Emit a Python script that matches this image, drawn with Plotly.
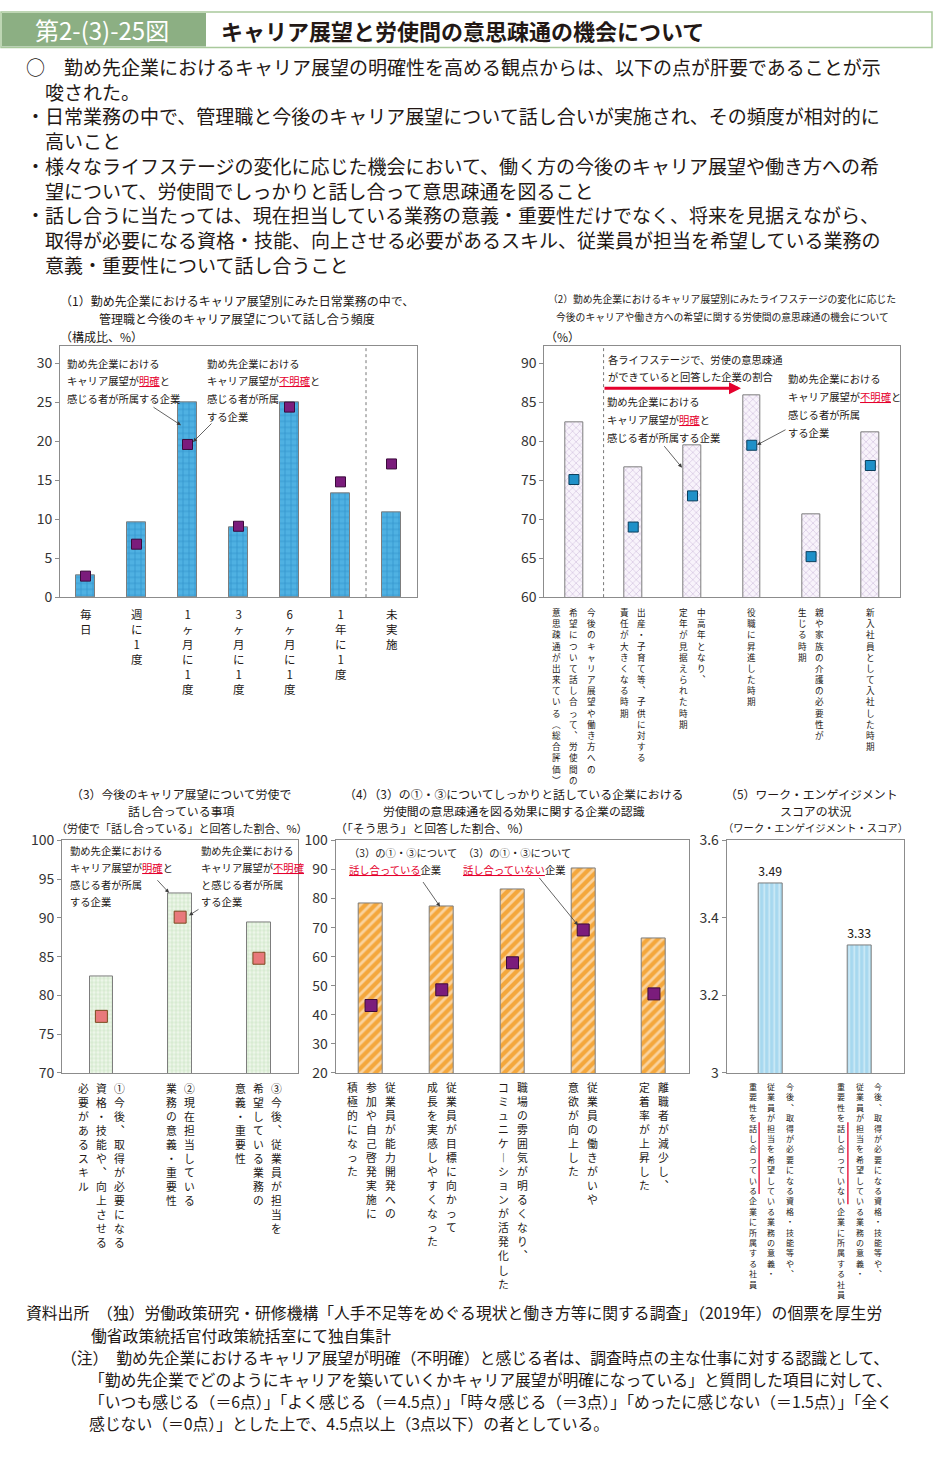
import plotly.graph_objects as go

W, H = 933, 1457
F = "Noto Sans CJK JP"
INK = "#231815"
RED = "#e5002d"
AX = "#8c8c8c"

# ---------------- data ----------------
p1_categories = ["毎日", "週に1度", "1ヶ月に1度", "3ヶ月に1度", "6ヶ月に1度", "1年に1度", "未実施"]
p1_clear = [2.8, 9.6, 25.0, 9.0, 25.0, 13.3, 10.9]        # キャリア展望が明確（棒）
p1_unclear = [2.7, 6.8, 19.6, 9.1, 24.4, 14.8, 17.1]      # キャリア展望が不明確（■）

p2_categories = [
    "今後のキャリア展望や働き方への\n希望について話し合って、労使間の\n意思疎通が出来ている（総合評価）",
    "出産・子育て等、子供に対する\n責任が大きくなる時期",
    "中高年となり、\n定年が見据えられた時期",
    "役職に昇進した時期",
    "親や家族の介護の必要性が\n生じる時期",
    "新入社員として入社した時期",
]
p2_clear = [82.4, 76.7, 79.5, 85.9, 70.6, 81.2]
p2_unclear = [75.1, 69.0, 73.0, 79.5, 65.2, 76.9]

p3_categories = [
    "①今後、取得が必要になる\n資格・技能や、向上させる\n必要があるスキル",
    "②現在担当している\n業務の意義・重要性",
    "③今後、従業員が担当を\n希望している業務の\n意義・重要性",
]
p3_clear = [82.5, 93.2, 89.4]
p3_unclear = [77.3, 90.1, 84.8]

p4_categories = [
    "従業員が能力開発への\n参加や自己啓発実施に\n積極的になった",
    "従業員が目標に向かって\n成長を実感しやすくなった",
    "職場の雰囲気が明るくなり、\nコミュニケーションが活発化した",
    "従業員の働きがいや\n意欲が向上した",
    "離職者が減少し、\n定着率が上昇した",
]
p4_talking = [78.2, 77.3, 83.0, 90.2, 66.4]
p4_not_talking = [43.2, 48.6, 57.9, 69.2, 47.2]

p5_categories = [
    "今後、取得が必要になる資格・技能等や、\n従業員が担当を希望している業務の意義・\n重要性を話し合っている企業に所属する社員",
    "今後、取得が必要になる資格・技能等や、\n従業員が担当を希望している業務の意義・\n重要性を話し合っていない企業に所属する社員",
]
p5_scores = [3.49, 3.33]

intro_lines = [
    "○　勤め先企業におけるキャリア展望の明確性を高める観点からは、以下の点が肝要であることが示",
    "　唆された。",
    "・日常業務の中で、管理職と今後のキャリア展望について話し合いが実施され、その頻度が相対的に",
    "　高いこと",
    "・様々なライフステージの変化に応じた機会において、働く方の今後のキャリア展望や働き方への希",
    "　望について、労使間でしっかりと話し合って意思疎通を図ること",
    "・話し合うに当たっては、現在担当している業務の意義・重要性だけでなく、将来を見据えながら、",
    "　取得が必要になる資格・技能、向上させる必要があるスキル、従業員が担当を希望している業務の",
    "　意義・重要性について話し合うこと",
]
footer_lines = [
    "資料出所　（独）労働政策研究・研修機構「人手不足等をめぐる現状と働き方等に関する調査」（2019年）の個票を厚生労",
    "働省政策統括官付政策統括室にて独自集計",
    "（注）　勤め先企業におけるキャリア展望が明確（不明確）と感じる者は、調査時点の主な仕事に対する認識として、",
    "「勤め先企業でどのようにキャリアを築いていくかキャリア展望が明確になっている」と質問した項目に対して、",
    "「いつも感じる（＝6点）」「よく感じる（＝4.5点）」「時々感じる（＝3点）」「めったに感じない（＝1.5点）」「全く",
    "感じない（＝0点）」とした上で、4.5点以上（3点以下）の者としている。",
]

# ---------------- layout helpers ----------------
def px(x):
    return x / W


def py(y):
    return 1 - y / H


ann = []
shapes = []


def t(x, y, s, size=12, xa="left", color=INK, ya="middle"):
    ann.append(dict(x=px(x), y=py(y), xref="paper", yref="paper", text=s, showarrow=False,
                    xanchor=xa, yanchor=ya, align="left" if xa == "left" else "center",
                    font=dict(family=F, size=size, color=color), borderpad=0))


def arrow(tx, ty, hx, hy, color="#3c3c3c", width=0.8, head=2, size=1.0):
    ann.append(dict(x=px(hx), y=py(hy), xref="paper", yref="paper", text="", showarrow=True,
                    ax=tx - hx, ay=ty - hy, axref="pixel", ayref="pixel",
                    arrowcolor=color, arrowwidth=width, arrowhead=head, arrowsize=size, standoff=0))


def red(s):
    return f"<span style='color:{RED};text-decoration:underline'>{s}</span>"


VERT = {"、": "︑", "。": "︒", "ー": "︱", "（": "︵", "）": "︶", "「": "﹁", "」": "﹂"}


def vlabels(ax_i, cats, y0, size, colgap):
    xref = "x" if ax_i == 1 else f"x{ax_i}"
    for i, cat in enumerate(cats):
        cols = cat.split("\n")
        n = len(cols)
        for c, col in enumerate(cols):
            dx = ((n - 1) / 2 - c) * colgap
            txt = "<br>".join(VERT.get(ch, ch) for ch in col)
            ann.append(dict(xref=xref, x=i, yref="paper", y=py(y0), text=txt, showarrow=False,
                            xshift=dx, xanchor="center", yanchor="top", align="center",
                            borderpad=0, font=dict(family=F, size=size, color=INK)))


# panel geometry (pixels)
dom = {
    1: ((60, 417), (340, 594.3)),
    2: ((544.3, 900), (340, 594.3)),
    3: ((62, 298.3), (841, 1076.7)),
    4: ((335.7, 689.3), (841, 1076.7)),
    5: ((726.7, 904.3), (841, 1076.7)),
}
yranges = {1: [0, 32.2], 2: [60, 92.2], 3: [70, 100], 4: [20, 100], 5: [3, 3.6]}
dticks = {1: 5, 2: 5, 3: 5, 4: 10, 5: 0.2}
ncat = {1: len(p1_categories), 2: len(p2_categories), 3: len(p3_categories),
        4: len(p4_categories), 5: len(p5_categories)}

fig = go.Figure()
lay = {}
for i, (xd, yd) in dom.items():
    sfx = "" if i == 1 else str(i)
    lay["xaxis" + sfx] = dict(domain=[px(xd[0]), px(xd[1])], anchor="y" + sfx, type="category",
                              range=[-0.5, ncat[i] - 0.5], showticklabels=False, ticks="",
                              showline=True, mirror=True, linecolor=AX, linewidth=1,
                              showgrid=False, zeroline=False, fixedrange=True)
    lay["yaxis" + sfx] = dict(domain=[py(yd[1]), py(yd[0])], anchor="x" + sfx, range=yranges[i],
                              dtick=dticks[i], tick0=yranges[i][0], ticks="outside", ticklen=4,
                              tickcolor=AX, showline=True, mirror=True, linecolor=AX, linewidth=1,
                              showgrid=False, zeroline=False, fixedrange=True,
                              tickfont=dict(family=F, size=14, color="#333333"))


def bars(i, cats, vals, width, bg, fg, shape, size, solidity, text=None):
    sfx = "" if i == 1 else str(i)
    fig.add_trace(go.Bar(x=cats, y=vals, xaxis="x" + sfx, yaxis="y" + sfx, width=width,
                         marker=dict(color=bg, line=dict(color="#7d7d7d", width=1),
                                     pattern=dict(shape=shape, fgcolor=fg, bgcolor=bg, size=size,
                                                  solidity=solidity)),
                         text=text, textposition="outside" if text else None,
                         textfont=dict(family=F, size=14, color=INK), cliponaxis=False,
                         showlegend=False, hoverinfo="skip"))


def marks(i, cats, vals, color, line, size):
    sfx = "" if i == 1 else str(i)
    fig.add_trace(go.Scatter(x=cats, y=vals, xaxis="x" + sfx, yaxis="y" + sfx, mode="markers",
                             marker=dict(symbol="square", size=size, color=color,
                                         line=dict(color=line, width=1)),
                             showlegend=False, hoverinfo="skip", cliponaxis=False))


bars(1, p1_categories, p1_clear, 0.37, "#4fb1e2", "#1878b8", "+", 6, 0.25)
marks(1, p1_categories, p1_unclear, "#7b1c7c", "#3b0a3b", 10)
bars(2, p2_categories, p2_clear, 0.30, "#f8f3fb", "#bea6d0", "x", 5, 0.3)
marks(2, p2_categories, p2_unclear, "#1f90c8", "#0c3f5c", 10)
bars(3, p3_categories, p3_clear, 0.30, "#edf6e9", "#92c583", "+", 4, 0.25)
marks(3, p3_categories, p3_unclear, "#e8797b", "#7a4a1e", 12)
bars(4, p4_categories, p4_talking, 0.34, "#f4a73c", "#ffffff", "/", 7, 0.4)
marks(4, p4_categories, p4_not_talking, "#7b1c7c", "#3b0a3b", 12)
bars(5, p5_categories, p5_scores, 0.27, "#a7d8ef", "#ffffff", "|", 5, 0.3,
     text=[f"{v:.2f}" for v in p5_scores])

shapes.append(dict(type="line", xref="x", yref="y domain", x0=5.5, x1=5.5, y0=0, y1=1,
                   line=dict(color="#777777", width=1, dash="3px,3px")))
shapes.append(dict(type="line", xref="x2", yref="y2 domain", x0=0.5, x1=0.5, y0=0, y1=1,
                   line=dict(color="#777777", width=1, dash="3px,3px")))

# ---------------- header ----------------
shapes.append(dict(type="rect", xref="paper", yref="paper", x0=px(1), x1=px(932), y0=py(37),
                   y1=py(1), line=dict(color="#a9c99c", width=1.5), fillcolor="white", layer="below"))
shapes.append(dict(type="rect", xref="paper", yref="paper", x0=px(2), x1=px(206), y0=py(36),
                   y1=py(2), line=dict(width=0), fillcolor="#8caf83", layer="below"))
t(102, 19, "第2-(3)-25図", size=24, xa="center", color="white")
t(220, 19, "<b>キャリア展望と労使間の意思疎通の機会について</b>", size=22)

# ---------------- intro ----------------
t(25, 157, "<br>".join(intro_lines), size=19)

# ---------------- panel titles ----------------
t(237, 294, "（1）勤め先企業におけるキャリア展望別にみた日常業務の中で、", 12, "center")
t(237, 311.7, "管理職と今後のキャリア展望について話し合う頻度", 12, "center")
t(59, 330, "（構成比、%）", 12)

t(722, 292.3, "（2）勤め先企業におけるキャリア展望別にみたライフステージの変化に応じた", 9.8, "center")
t(722, 310.7, "今後のキャリアや働き方への希望に関する労使間の意思疎通の機会について", 9.8, "center")
t(544, 330, "（%）", 12)

t(181, 793.3, "（3）今後のキャリア展望について労使で", 11.9, "center")
t(181, 810.7, "話し合っている事項", 11.9, "center")
t(182, 828.3, "（労使で「話し合っている」と回答した割合、%）", 11, "center")

t(513, 793.3, "（4）（3）の①・③についてしっかりと話している企業における", 11.9, "center")
t(514, 810.7, "労使間の意思疎通を図る効果に関する企業の認識", 11.9, "center")
t(334, 828.3, "（「そう思う」と回答した割合、%）", 11.9)

t(811, 793.3, "（5）ワーク・エンゲイジメント", 11.9, "center")
t(815, 810.7, "スコアの状況", 11.9, "center")
t(815, 828.3, "（ワーク・エンゲイジメント・スコア）", 10.3, "center")

# ---------------- in-panel notes ----------------
S = 10.3
for y, s in zip([357, 375, 393], ["勤め先企業における", "キャリア展望が" + red("明確") + "と", "感じる者が所属する企業"]):
    t(66, y, s, S)
for y, s in zip([357, 375, 393, 411], ["勤め先企業における", "キャリア展望が" + red("不明確") + "と", "感じる者が所属", "する企業"]):
    t(206, y, s, S)
arrow(152, 401, 181, 420)
arrow(213, 417, 193, 437)

t(607, 353, "各ライフステージで、労使の意思疎通", S)
t(607, 371, "ができていると回答した企業の割合", S)
arrow(603, 382.5, 741, 382.5, color=RED, width=3, head=2, size=0.8)
for y, s in zip([396, 414, 432], ["勤め先企業における", "キャリア展望が" + red("明確") + "と", "感じる者が所属する企業"]):
    t(606, y, s, S)
for y, s in zip([373, 391, 409, 427], ["勤め先企業における", "キャリア展望が" + red("不明確") + "と", "感じる者が所属", "する企業"]):
    t(787, y, s, S)
arrow(663, 440, 682, 463)
arrow(787, 424, 757, 440)

for y, s in zip([851, 868, 886, 903], ["勤め先企業における", "キャリア展望が" + red("明確") + "と", "感じる者が所属", "する企業"]):
    t(69, y, s, S)
for y, s in zip([851, 868, 886, 903], ["勤め先企業における", "キャリア展望が" + red("不明確"), "と感じる者が所属", "する企業"]):
    t(200, y, s, S)
arrow(156, 880, 169, 894)
arrow(200, 910, 189, 917)

t(348, 853, "（3）の①・③について", S)
t(348, 870, red("話し合っている") + "企業", S)
t(462, 853, "（3）の①・③について", S)
t(462, 870, red("話し合っていない") + "企業", S)
arrow(422, 882, 440, 908)
arrow(538, 878, 578, 927)

# ---------------- vertical category labels ----------------
P5_Y0, P5_SIZE, P5_GAP = 1084, 8.0, 18.5
vlabels(1, p1_categories, 602, 11.5, 0)
vlabels(2, p2_categories, 602, 8.6, 17.5)
vlabels(3, p3_categories, 1083, 10.8, 18)
vlabels(4, p4_categories, 1082, 10.8, 19)
vlabels(5, p5_categories, P5_Y0, P5_SIZE, P5_GAP)

# red side lines marking 話し合っている / 話し合っていない (panel 5, third column)
pitch5 = 1.3 * P5_SIZE
for i, nch in enumerate([7, 8]):
    xo = -P5_GAP + P5_SIZE / 2 + 2.5
    shapes.append(dict(type="line", xref="x5", xsizemode="pixel", xanchor=i, x0=xo, x1=xo,
                       yref="paper", y0=py(P5_Y0 + 4 * pitch5 + 1), y1=py(P5_Y0 + (4 + nch) * pitch5 + 1),
                       line=dict(color=RED, width=1.3)))

# ---------------- footer ----------------
for (x, y), s in zip([(25, 1320), (90, 1343), (60, 1365), (88, 1388), (88, 1410), (88, 1432)], footer_lines):
    t(x, y, s, 15.8)

fig.update_layout(width=W, height=H, margin=dict(l=0, r=0, t=0, b=0), paper_bgcolor="white",
                  plot_bgcolor="white", showlegend=False, annotations=ann, shapes=shapes,
                  bargap=0, font=dict(family=F, color=INK), **lay)
fig.write_html("out.html", config={"displayModeBar": False},
               post_script="document.body.style.margin='0px';document.body.style.overflow='hidden';")
